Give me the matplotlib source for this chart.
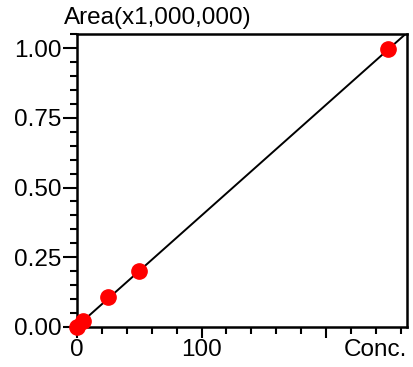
import numpy as np
import matplotlib
matplotlib.use("Agg")
import matplotlib.pyplot as plt
from matplotlib.ticker import MultipleLocator, FixedLocator

plt.rcParams['font.family'] = ['Liberation Sans', 'DejaVu Sans']

conc = [0, 5, 25, 50, 250]
area = [0.0, 0.02, 0.108, 0.2, 0.995]
x_ticks = [0, 100, 200]
x_labels = ['0', '100', '']
y_ticks = [0.0, 0.25, 0.5, 0.75, 1.0]
y_labels = ['0.00', '0.25', '0.50', '0.75', '1.00']

fig = plt.figure(figsize=(4.14, 3.67), dpi=100)
ax = fig.add_axes([0.186, 0.109, 0.797, 0.798])

xmax, ymax = 265, 1.05
coef = np.polyfit(conc, area, 1)
xf = np.linspace(0, xmax, 200)
yf = np.polyval(coef, xf)
ax.plot(xf, yf, color='black', lw=1.4, zorder=2)
ax.plot(conc, area, 'o', color='#ff0000', ms=11, zorder=5, clip_on=False)

ax.set_xlim(0, xmax)
ax.set_ylim(0, ymax)
ax.xaxis.set_major_locator(FixedLocator(x_ticks))
ax.set_xticklabels(x_labels)
ax.xaxis.set_minor_locator(MultipleLocator(20))
ax.yaxis.set_major_locator(FixedLocator(y_ticks))
ax.set_yticklabels(y_labels)
ax.yaxis.set_minor_locator(MultipleLocator(0.05))
ax.tick_params(axis='y', which='major', length=10, width=1.5, labelsize=17.5, direction='out', pad=1)
ax.tick_params(axis='x', which='major', length=8, width=1.5, labelsize=17.5, direction='out', pad=1)
ax.tick_params(which='minor', length=5, width=1.5, direction='out')
for s in ax.spines.values():
    s.set_linewidth(1.8)

fig.text(64/414, 1 - 18/367, 'Area(x1,000,000)', fontsize=17.5, ha='left', va='center')
fig.text(407/414, 1 - 350/367, 'Conc.', fontsize=17.5, ha='right', va='center')

fig.savefig('out.png', dpi=100)
